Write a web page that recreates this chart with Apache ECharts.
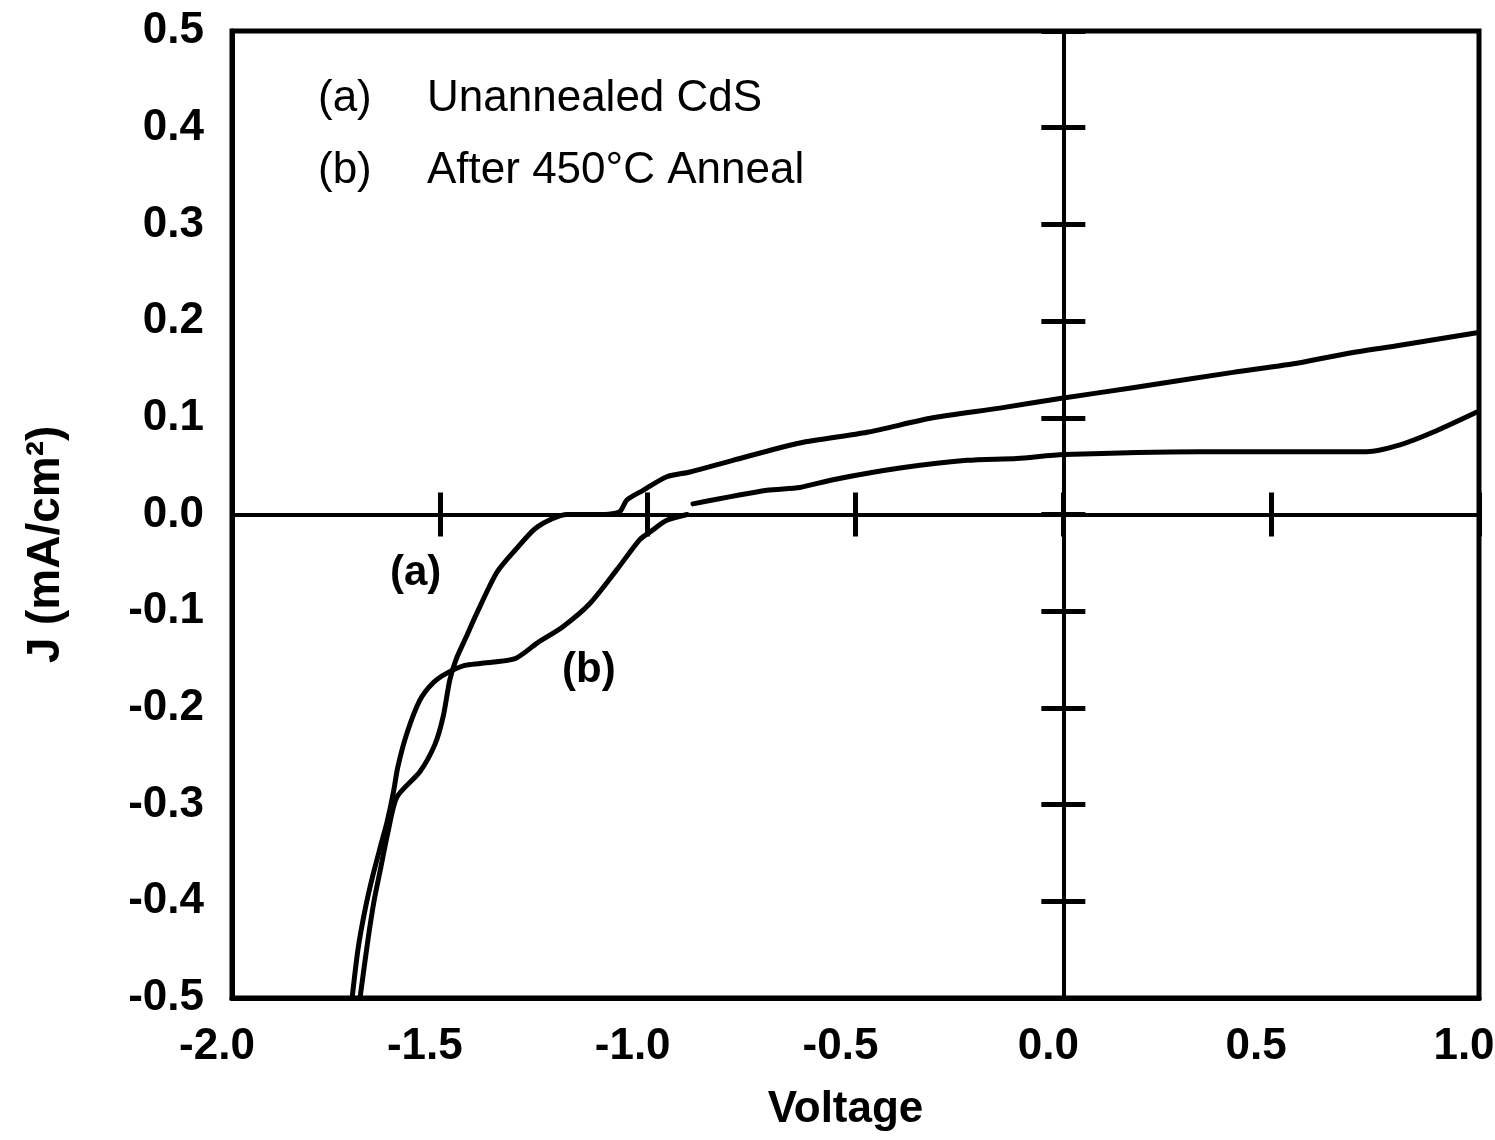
<!DOCTYPE html>
<html>
<head>
<meta charset="utf-8">
<script src="https://cdn.jsdelivr.net/npm/echarts@6/dist/echarts.min.js"></script>
<style>
html,body{margin:0;padding:0;background:#fff;}
#chart{width:1495px;height:1140px;}
</style>
</head>
<body>
<div id="chart"></div>
<script>
// ---- Data ----
// Curve (a): Unannealed CdS
const voltageA = [-1.692,-1.673,-1.658,-1.642,-1.625,-1.603,-1.548,-1.512,-1.492,-1.476,-1.461,-1.437,-1.411,-1.363,-1.319,-1.266,-1.194,-1.103,-1.067,-1.050,-1.011,-0.954,-0.898,-0.795,-0.634,-0.472,-0.314,-0.153,-0.008,0.167,0.408,0.569,0.689,0.810,0.995];
const currentA = [-0.500,-0.440,-0.399,-0.365,-0.329,-0.292,-0.266,-0.238,-0.209,-0.171,-0.150,-0.127,-0.102,-0.060,-0.037,-0.013,0.000,0.000,0.003,0.015,0.025,0.039,0.044,0.056,0.074,0.085,0.100,0.110,0.120,0.131,0.147,0.157,0.167,0.175,0.188];
// Curve (b): After 450°C anneal (null = gap in the drawn line)
const voltageB = [-1.711,-1.697,-1.680,-1.661,-1.642,-1.627,-1.612,-1.601,-1.579,-1.548,-1.516,-1.483,-1.440,-1.403,-1.319,-1.266,-1.204,-1.139,-1.074,-1.019,-0.994,-0.954,-0.905,null,-0.891,-0.713,-0.634,-0.554,-0.393,-0.232,-0.112,0.001,0.329,0.730,0.810,0.889,0.995];
const currentB = [-0.500,-0.450,-0.409,-0.373,-0.342,-0.318,-0.288,-0.261,-0.226,-0.192,-0.174,-0.164,-0.156,-0.154,-0.149,-0.133,-0.116,-0.092,-0.057,-0.026,-0.018,-0.006,0.000,null,0.011,0.025,0.028,0.036,0.048,0.056,0.058,0.062,0.065,0.065,0.072,0.085,0.106];

const xTickValues = [-2.0,-1.5,-1.0,-0.5,0.0,0.5,1.0];
const yTickValues = [-0.5,-0.4,-0.3,-0.2,-0.1,0.0,0.1,0.2,0.3,0.4,0.5];
const legendKeys = ['(a)','(b)'];
const legendTexts = ['Unannealed CdS','After 450°C Anneal'];
const xTitle = 'Voltage';
const yTitle = 'J (mA/cm²)';

// ---- Build ----
function pairs(xs, ys){
  return xs.map((v,i)=> (v===null||ys[i]===null) ? '-' : [v, ys[i]]);
}
const FONT = '"Liberation Sans", Arial, Helvetica, sans-serif';
const xMin = xTickValues[0], xMax = xTickValues[xTickValues.length-1];
const yMin = yTickValues[0], yMax = yTickValues[yTickValues.length-1];

function fmtX(v){ return v.toFixed(1); }
function fmtY(v){ return v.toFixed(1); }

const baseX = {type:'value', min:xMin, max:xMax, interval:0.5, splitLine:{show:false}};
const baseY = {type:'value', min:yMin, max:yMax, interval:0.1, splitLine:{show:false}};

const chart = echarts.init(document.getElementById('chart'), null, {renderer:'canvas'});
chart.setOption({
  backgroundColor:'#ffffff',
  animation:false,
  grid:{left:232, right:16, top:31, bottom:142, show:true, borderColor:'#000', borderWidth:5, outerBoundsMode:'none', containLabel:false},
  xAxis:[
    Object.assign({}, baseX, {
      position:'bottom',
      axisLine:{onZero:false, lineStyle:{color:'#000', width:5}},
      axisTick:{show:false},
      axisLabel:{margin:27, color:'#000', fontSize:44, fontWeight:'bold', fontFamily:FONT, padding:[0,30,0,0], formatter:fmtX},
      name:xTitle, nameLocation:'middle', nameGap:90,
      nameTextStyle:{color:'#000', fontSize:44, fontWeight:'bold', fontFamily:FONT, padding:[0,20,0,0]}
    }),
    Object.assign({}, baseX, {
      position:'bottom',
      axisLine:{onZero:true, onZeroAxisIndex:0, lineStyle:{color:'#000', width:4}},
      axisTick:{show:true, inside:true, length:22, lineStyle:{color:'#000', width:5}},
      axisLabel:{show:false}
    }),
    Object.assign({}, baseX, {
      position:'bottom',
      axisLine:{onZero:true, onZeroAxisIndex:0, lineStyle:{color:'#000', width:4}},
      axisTick:{show:true, inside:false, length:22, lineStyle:{color:'#000', width:5}},
      axisLabel:{show:false}
    })
  ],
  yAxis:[
    Object.assign({}, baseY, {
      position:'left',
      axisLine:{onZero:false, lineStyle:{color:'#000', width:5}},
      axisTick:{show:false},
      axisLabel:{margin:28, color:'#000', fontSize:44, fontWeight:'bold', fontFamily:FONT, formatter:fmtY},
      name:yTitle, nameLocation:'middle', nameGap:163,
      nameTextStyle:{color:'#000', fontSize:46, fontWeight:'bold', fontFamily:FONT, padding:[0,60,0,0]}
    }),
    Object.assign({}, baseY, {
      position:'left',
      axisLine:{onZero:true, onZeroAxisIndex:0, lineStyle:{color:'#000', width:4}},
      axisTick:{show:true, inside:true, length:22, lineStyle:{color:'#000', width:5}},
      axisLabel:{show:false}
    }),
    Object.assign({}, baseY, {
      position:'left',
      axisLine:{onZero:true, onZeroAxisIndex:0, lineStyle:{color:'#000', width:4}},
      axisTick:{show:true, inside:false, length:22, lineStyle:{color:'#000', width:5}},
      axisLabel:{show:false}
    })
  ],
  series:[
    {
      name:legendTexts[0], type:'line', xAxisIndex:0, yAxisIndex:0,
      data:pairs(voltageA, currentA), showSymbol:false, symbol:'none',
      smooth:0.25,
      lineStyle:{color:'#000', width:5, cap:'round', join:'round'}, z:5
    },
    {
      name:legendTexts[1], type:'line', xAxisIndex:0, yAxisIndex:0,
      data:pairs(voltageB, currentB), showSymbol:false, symbol:'none',
      smooth:0.25, connectNulls:false,
      lineStyle:{color:'#000', width:5, cap:'round', join:'round'}, z:5
    }
  ],
  graphic:[
    {type:'text', left:318, top:77, style:{text:legendKeys[0], font:'44px '+FONT, fill:'#000'}},
    {type:'text', left:427, top:77, style:{text:legendTexts[0], font:'44px '+FONT, fill:'#000'}},
    {type:'text', left:318, top:149, style:{text:legendKeys[1], font:'44px '+FONT, fill:'#000'}},
    {type:'text', left:427, top:149, style:{text:legendTexts[1], font:'44px '+FONT, fill:'#000'}},
    {type:'text', left:390, top:552, style:{text:legendKeys[0], font:'bold 42px '+FONT, fill:'#000'}},
    {type:'text', left:562, top:649, style:{text:legendKeys[1], font:'bold 42px '+FONT, fill:'#000'}}
  ]
});
</script>
</body>
</html>
